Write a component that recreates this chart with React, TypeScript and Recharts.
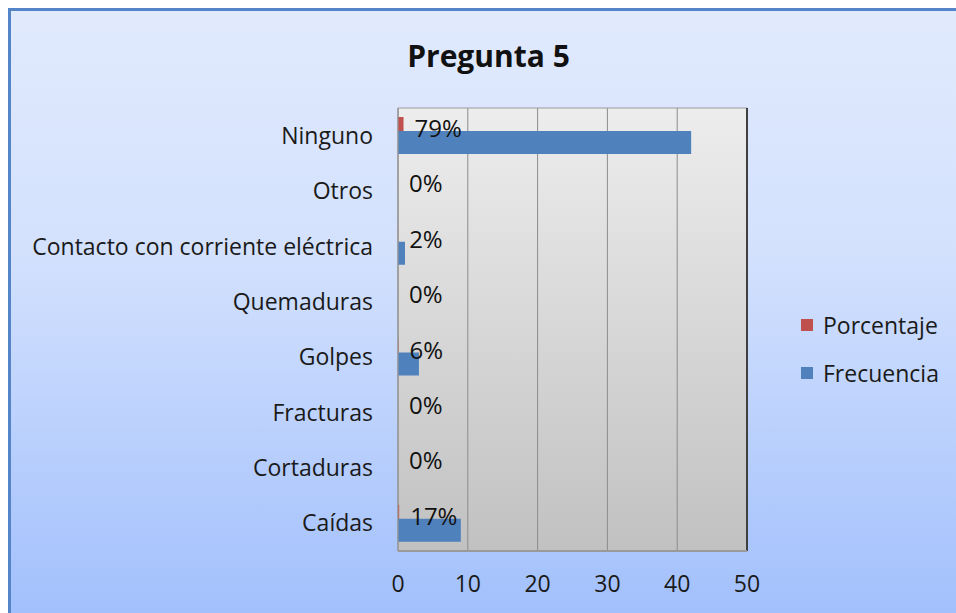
import React from 'react';
import { BarChart, Bar, XAxis, YAxis, CartesianGrid, Legend, LabelList, ReferenceArea, ReferenceLine } from 'recharts';

// categories, top to bottom
const categories = [
  'Ninguno',
  'Otros',
  'Contacto con corriente eléctrica',
  'Quemaduras',
  'Golpes',
  'Fracturas',
  'Cortaduras',
  'Caídas',
];
const frecuencia = [42, 0, 1, 0, 3, 0, 0, 9];
const porcentaje = [0.79, 0, 0.02, 0, 0.06, 0, 0, 0.17];
const xTicks = [0, 10, 20, 30, 40, 50];
const seriesOrder = ['Porcentaje', 'Frecuencia'];

const data = categories.map((name, i) => ({
  name,
  Porcentaje: porcentaje[i],
  Frecuencia: frecuencia[i],
}));

const FONT = '"Open Sans", "Noto Sans", sans-serif';

function renderLegend(props: any) {
  const items = [...(props.payload || [])].sort(
    (a: any, b: any) => seriesOrder.indexOf(a.value) - seriesOrder.indexOf(b.value)
  );
  return (
    <div style={{ fontFamily: FONT }}>
      {items.map((entry: any) => (
        <div key={entry.value} style={{ display: 'flex', alignItems: 'center', height: 48, fontSize: 23, color: '#1a1a1a' }}>
          <span style={{ width: 12, height: 12, background: entry.color, display: 'inline-block', marginRight: 10 }} />
          {entry.value}
        </div>
      ))}
    </div>
  );
}

export default function App() {
  return (
    <div
      style={{
        position: 'fixed',
        left: 8,
        top: 8,
        width: 948,
        height: 605,
        boxSizing: 'border-box',
        borderTop: '3px solid #5585c9',
        borderLeft: '3px solid #5585c9',
        background: 'linear-gradient(to bottom, #e1eafd 0%, #d3e1fd 40%, #a2c0fc 100%)',
        overflow: 'hidden',
      }}
    >
      {/* Title */}
      <div
        style={{
          position: 'absolute',
          left: 0,
          width: 955,
          top: 24,
          textAlign: 'center',
          fontFamily: FONT,
          fontWeight: 'bold',
          fontSize: 30,
          color: '#111',
        }}
      >
        Pregunta 5
      </div>

      <BarChart
        width={945}
        height={602}
        data={data}
        layout="vertical"
        margin={{ top: 97, right: 49, bottom: 0, left: 0 }}
        barSize={23}
        barGap={-9}
      >
        <defs>
          <linearGradient id="plotBg" x1="0" y1="0" x2="0" y2="1">
            <stop offset="0%" stopColor="#ededed" />
            <stop offset="100%" stopColor="#c1c1c1" />
          </linearGradient>
        </defs>

        <CartesianGrid horizontal={false} stroke="#8c8c8c" fill="url(#plotBg)" fillOpacity={1} />

        <XAxis
          type="number"
          domain={[0, 50]}
          ticks={xTicks}
          interval={0}
          axisLine={{ stroke: '#9a9a9a', strokeWidth: 2 }}
          tickLine={false}
          tickSize={0}
          tickMargin={25}
          height={62}
          tick={{ fill: '#1a1a1a', fontSize: 23, fontFamily: FONT }}
        />
        <YAxis
          type="category"
          dataKey="name"
          width={387}
          axisLine={{ stroke: '#9a9a9a' }}
          tickLine={false}
          tickSize={0}
          tickMargin={25}
          interval={0}
          tick={{ fill: '#1a1a1a', fontSize: 23, fontFamily: FONT }}
        />

        <ReferenceArea x1={0} x2={50} fill="none" stroke="#9a9a9a" ifOverflow="visible" />
        <ReferenceLine x={50} stroke="#404040" strokeWidth={2} />

        <Legend
          layout="vertical"
          align="right"
          verticalAlign="top"
          content={renderLegend}
          wrapperStyle={{ position: 'absolute', left: 790, top: 290, width: 160 }}
        />

        <Bar dataKey="Porcentaje" fill="#c0504d" minPointSize={0.01} isAnimationActive={false}>
          <LabelList
            dataKey="Porcentaje"
            position="right"
            offset={11}
            formatter={(v: any) => `${Math.round(Number(v) * 100)}%`}
            style={{ fill: '#111', fontSize: 24, fontFamily: FONT }}
          />
        </Bar>
        <Bar dataKey="Frecuencia" fill="#4f81bd" isAnimationActive={false} />
      </BarChart>
    </div>
  );
}
